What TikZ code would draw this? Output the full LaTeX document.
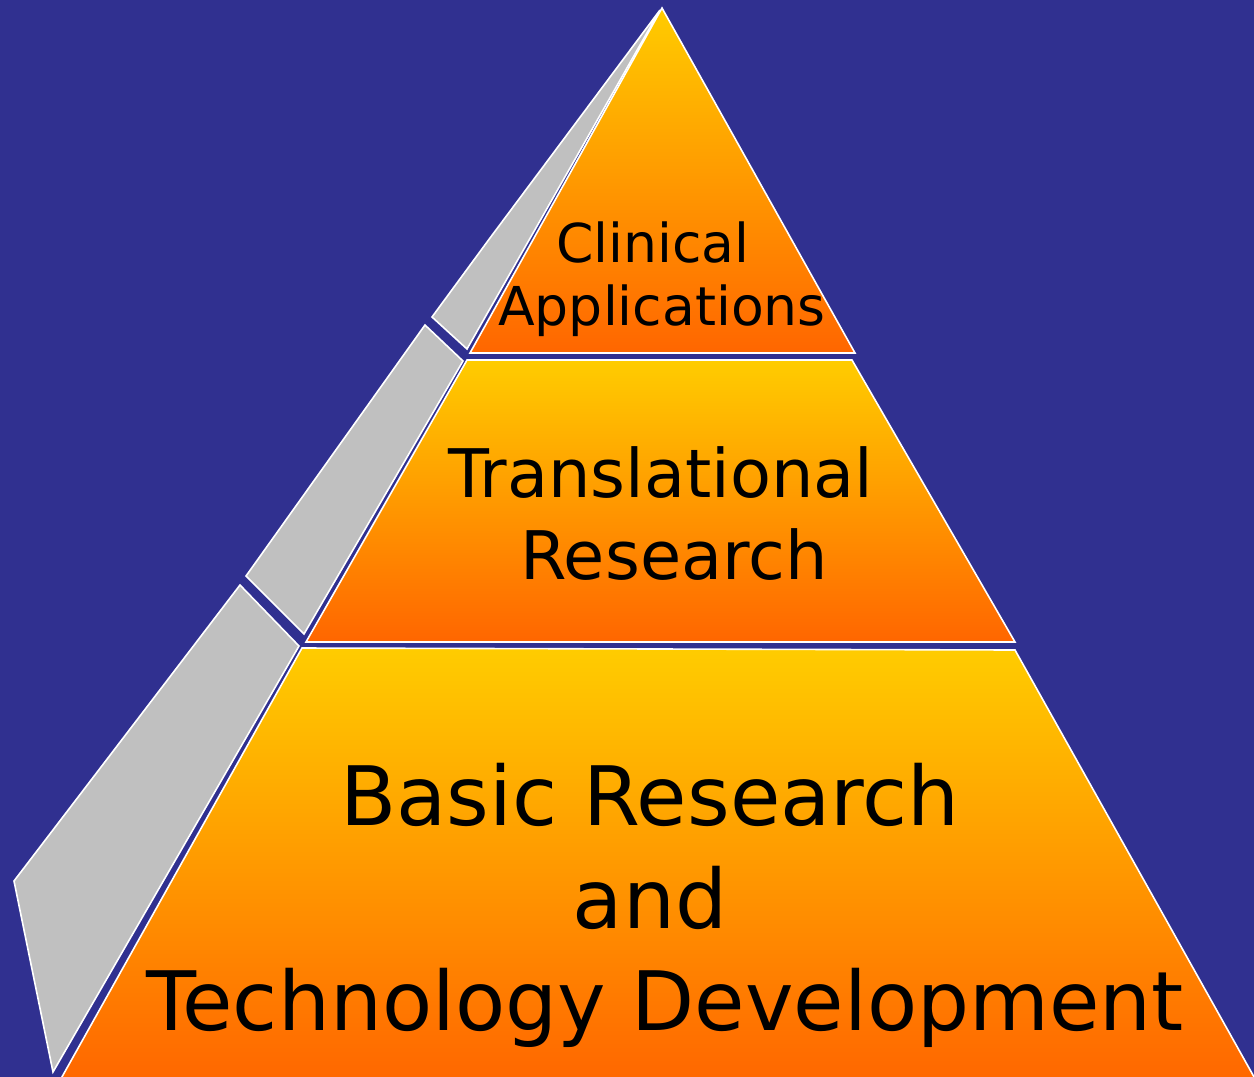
\documentclass[tikz,border=0pt]{standalone}
\usepackage{fontspec}
\setmainfont{DejaVu Sans}
\definecolor{bgblue}{RGB}{48,48,144}
\definecolor{sidegray}{RGB}{192,192,192}
\definecolor{topgold}{RGB}{255,204,0}
\definecolor{botorange}{RGB}{255,102,0}
\begin{document}
\begin{tikzpicture}[x=0.5pt,y=-0.5pt,
  face/.style={fill=sidegray,draw=white,line width=0.8pt,line join=miter},
  tier/.style={top color=topgold,bottom color=botorange,draw=white,line width=0.8pt,line join=miter},
  lbl/.style={anchor=base,inner sep=0pt,text=black}]
\fill[bgblue] (0,0) rectangle (1254,1077);
\useasboundingbox (0,0) rectangle (1254,1077);
\begin{scope}
\clip (0,0) rectangle (1254,1077);
% grey side faces
\path[face] (660,10) -- (490,238) -- (432,317) -- (467,349) -- cycle;
\path[face] (425,325) -- (463,361) -- (304,634) -- (246,576) -- cycle;
\path[face] (240,585) -- (299,646) -- (53,1072) -- (14,881) -- cycle;
% pyramid tiers
\path[tier] (662,8) -- (855,353) -- (470,353) -- cycle;
\path[tier] (467,360) -- (852,360) -- (1015,642) -- (306,642) -- cycle;
\path[tier] (302,648) -- (1015,650) -- (1258,1084) -- (58,1084) -- cycle;
\end{scope}
% labels
\node[lbl,font=\fontsize{26.8pt}{32pt}\selectfont] (c1) at (653,262) {Clinical};
\node[lbl,font=\fontsize{26.8pt}{32pt}\selectfont] (c2) at (662,325) {Applications};
\node[lbl,font=\fontsize{33.5pt}{40pt}\selectfont] (t1) at (661,497) {Translational};
\node[lbl,font=\fontsize{33.5pt}{40pt}\selectfont] (t2) at (674,579) {Research};
\node[lbl,font=\fontsize{41pt}{49pt}\selectfont] (b1) at (650,825) {Basic Research};
\node[lbl,font=\fontsize{41pt}{49pt}\selectfont] (b2) at (650,928) {and};
\node[lbl,font=\fontsize{41pt}{49pt}\selectfont] (b3) at (665,1030) {Technology Development};
\end{tikzpicture}
\end{document}
